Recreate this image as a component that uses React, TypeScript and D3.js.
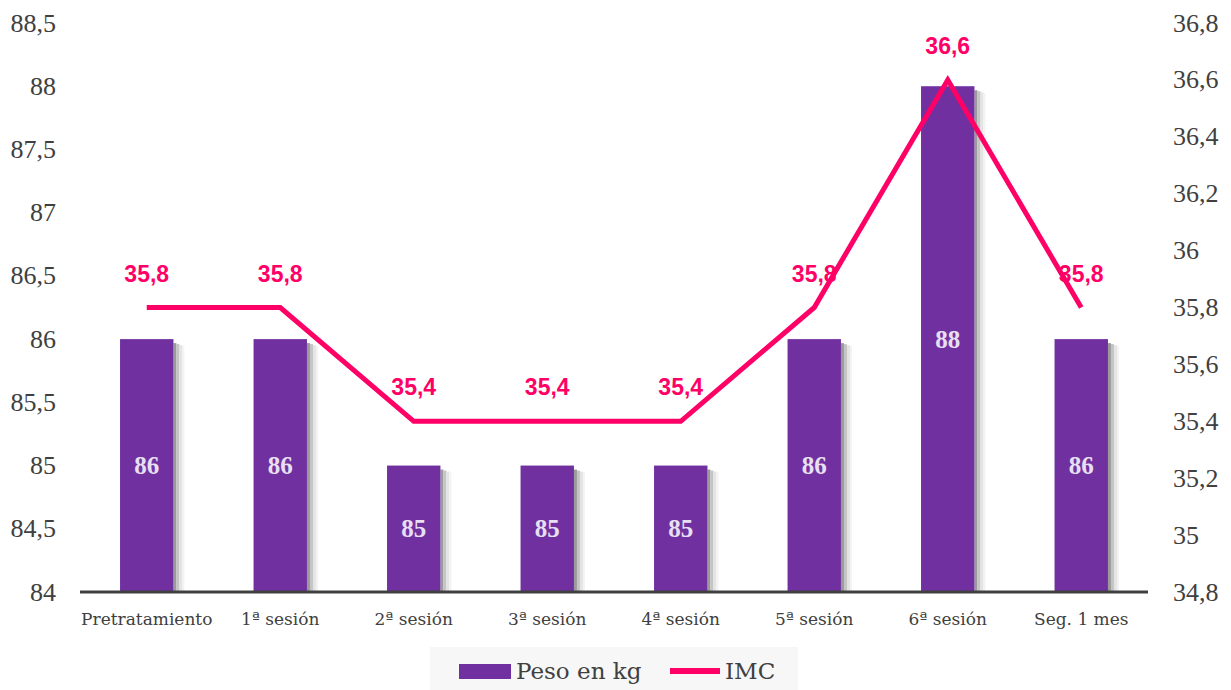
import React from "react";
import * as d3 from "d3";

const categories = ["Pretratamiento", "1ª sesión", "2ª sesión", "3ª sesión", "4ª sesión", "5ª sesión", "6ª sesión", "Seg. 1 mes"];
const peso = [86, 86, 85, 85, 85, 86, 88, 86];
const imc = [35.8, 35.8, 35.4, 35.4, 35.4, 35.8, 36.6, 35.8];
const leftTicks = [84, 84.5, 85, 85.5, 86, 86.5, 87, 87.5, 88, 88.5];
const rightTicks = [34.8, 35, 35.2, 35.4, 35.6, 35.8, 36, 36.2, 36.4, 36.6, 36.8];

const W = 1231, H = 690;
const serif = "'Liberation Serif', 'DejaVu Serif', serif";
const wideSerif = "'DejaVu Serif', serif";
const sans = "'Liberation Sans', Arial, sans-serif";
const fmt = (v: number) => String(Math.round(v * 10) / 10).replace(".", ",");

export default function App() {
  const x = d3.scaleBand<string>().domain(categories).range([80, 1148]).paddingInner(0.6).paddingOuter(0.3);
  const yL = d3.scaleLinear().domain([84, 88.5]).range([592, 23]);
  const yR = d3.scaleLinear().domain([34.8, 36.8]).range([592, 23]);
  const bw = x.bandwidth();
  const cx = (c: string) => (x(c) as number) + bw / 2;
  const line = d3.line<number>().x((_, i) => cx(categories[i])).y((d) => yR(d));

  return (
    <svg width={W} height={H} style={{ position: "absolute", left: 0, top: 0, background: "#fff" }}>
      {leftTicks.map((t) => (
        <text key={"l" + t} x={56} y={yL(t)} textAnchor="end" dominantBaseline="central" fontFamily={serif} fontSize={26} fill="#404040">{fmt(t)}</text>
      ))}
      {rightTicks.map((t) => (
        <text key={"r" + t} x={1173} y={yR(t)} textAnchor="start" dominantBaseline="central" fontFamily={serif} fontSize={26} fill="#404040">{fmt(t)}</text>
      ))}
      {categories.map((c, i) => {
        const bx = x(c) as number;
        const top = yL(peso[i]);
        const bot = yL(84);
        return (
          <g key={c}>
            <rect x={bx + bw} y={top + 4} width={3} height={bot - top - 4} fill="#9a9a9a" />
            <rect x={bx + bw + 3} y={top + 5} width={3} height={bot - top - 5} fill="#c4c4c4" />
            <rect x={bx + bw + 6} y={top + 6} width={3} height={bot - top - 6} fill="#e4e4e4" />
            <rect x={bx + bw + 9} y={top + 7} width={2} height={bot - top - 7} fill="#f3f3f3" />
            <rect x={bx} y={top} width={bw} height={bot - top} fill="#7030a0" />
            <text x={cx(c)} y={(top + bot) / 2} textAnchor="middle" dominantBaseline="central" fontFamily={serif} fontSize={25} fontWeight="bold" fill="#e8e0f2">{peso[i]}</text>
            <text x={cx(c)} y={619} textAnchor="middle" dominantBaseline="central" fontFamily={wideSerif} fontSize={17} fill="#404040">{c}</text>
          </g>
        );
      })}
      <line x1={80} x2={1148} y1={592} y2={592} stroke="#404040" strokeWidth={3} />
      <path d={line(imc) || ""} fill="none" stroke="#ff0066" strokeWidth={5} strokeLinejoin="miter" />
      {imc.map((v, i) => (
        <text key={"i" + i} x={cx(categories[i])} y={yR(v) - 34} textAnchor="middle" dominantBaseline="central" fontFamily={sans} fontSize={23} fontWeight="bold" fill="#ff0066">{fmt(v)}</text>
      ))}
      <rect x={430} y={647} width={368} height={43} fill="#f7f7f7" />
      <rect x={459} y={664} width={52} height={15} fill="#7030a0" />
      <text x={516} y={671} dominantBaseline="central" fontFamily={wideSerif} fontSize={23} fill="#404040">Peso en kg</text>
      <line x1={670} x2={720} y1={671} y2={671} stroke="#ff0066" strokeWidth={6} />
      <text x={725} y={671} dominantBaseline="central" fontFamily={wideSerif} fontSize={23} fill="#404040">IMC</text>
    </svg>
  );
}
